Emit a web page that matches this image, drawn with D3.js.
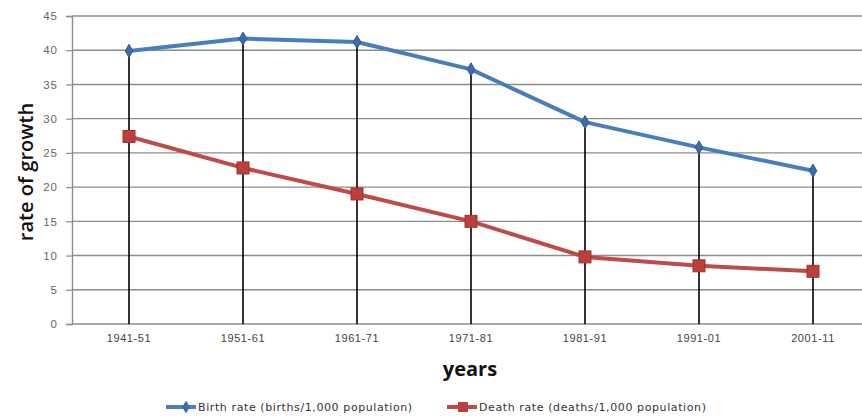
<!DOCTYPE html>
<html>
<head>
<meta charset="utf-8">
<script src="https://cdn.jsdelivr.net/npm/d3@7"></script>
<style>
  html, body { margin: 0; padding: 0; background: #fff; }
  svg { display: block; font-family: "DejaVu Sans", Verdana, sans-serif; }
</style>
</head>
<body>
<svg id="chart" width="862" height="416"></svg>
<script>
// Decade periods on the x axis
const periods = ["1941-51", "1951-61", "1961-71", "1971-81", "1981-91", "1991-01", "2001-11"];
// Births per 1,000 population
const birthRate = [39.9, 41.7, 41.2, 37.2, 29.5, 25.8, 22.4];
// Deaths per 1,000 population
const deathRate = [27.4, 22.8, 19.0, 15.0, 9.8, 8.5, 7.7];
// Y axis ticks
const yTicks = [0, 5, 10, 15, 20, 25, 30, 35, 40, 45];

const seriesNames = ["Birth rate (births/1,000 population)", "Death rate (deaths/1,000 population)"];
const colors = ["#4A7EBB", "#BE4B48"];

const svg = d3.select("#chart");
const plot = { left: 72, right: 870, top: 16, bottom: 324 };

const x = d3.scaleBand().domain(periods).range([plot.left, plot.right]);
const cx = d => x(d) + x.bandwidth() / 2;
const y = d3.scaleLinear().domain([0, 45]).range([plot.bottom, plot.top]);

// Horizontal gridlines
svg.append("g").selectAll("line").data(yTicks.filter(t => t > 0)).join("line")
  .attr("x1", plot.left).attr("x2", 862)
  .attr("y1", d => y(d)).attr("y2", d => y(d))
  .attr("stroke", "#8c8c8c").attr("stroke-width", 1.4);

// Y axis
const yAxis = svg.append("g").attr("transform", `translate(${plot.left},0)`)
  .call(d3.axisLeft(y).tickValues(yTicks).tickSize(6).tickPadding(8));
yAxis.select(".domain").attr("stroke", "#8c8c8c").attr("stroke-width", 1.4);
yAxis.selectAll(".tick line").attr("stroke", "#8c8c8c").attr("stroke-width", 1.2);
yAxis.selectAll("text").attr("fill", "#666").attr("font-size", 11.5)
  .attr("letter-spacing", 1);

// X axis
const xAxis = svg.append("g").attr("transform", `translate(0,${plot.bottom})`)
  .call(d3.axisBottom(x).tickSize(0).tickPadding(10));
xAxis.select(".domain").attr("stroke", "#8c8c8c").attr("stroke-width", 1.4)
  .attr("d", `M${plot.left},0H862`);
xAxis.selectAll("text").attr("fill", "#444").attr("font-size", 11)
  .attr("letter-spacing", 0.6);

// Drop lines from the highest point to the baseline
svg.append("g").selectAll("line").data(periods).join("line")
  .attr("x1", d => cx(d)).attr("x2", d => cx(d))
  .attr("y1", (d, i) => y(Math.max(birthRate[i], deathRate[i])))
  .attr("y2", y(0))
  .attr("stroke", "#000").attr("stroke-width", 1.6);

const line = d3.line().x((d, i) => cx(periods[i])).y(d => y(d));

// Birth rate series
svg.append("path").datum(birthRate)
  .attr("d", line).attr("fill", "none")
  .attr("stroke", colors[0]).attr("stroke-width", 4).attr("stroke-linejoin", "round");
const diamond = d3.symbol().type(d3.symbolDiamond).size(50);
svg.append("g").selectAll("path").data(birthRate).join("path")
  .attr("d", diamond)
  .attr("transform", (d, i) => `translate(${cx(periods[i])},${y(d)})`)
  .attr("fill", "#3D6DA8").attr("stroke", "#2f5a8f").attr("stroke-width", 1);

// Death rate series
svg.append("path").datum(deathRate)
  .attr("d", line).attr("fill", "none")
  .attr("stroke", colors[1]).attr("stroke-width", 4).attr("stroke-linejoin", "round");
svg.append("g").selectAll("rect").data(deathRate).join("rect")
  .attr("x", (d, i) => cx(periods[i]) - 6).attr("y", d => y(d) - 6)
  .attr("width", 12).attr("height", 12)
  .attr("fill", "#B8403D").attr("stroke", "#a3302d").attr("stroke-width", 1);

// Axis titles
svg.append("text")
  .attr("transform", "translate(33,172) rotate(-90)")
  .attr("text-anchor", "middle").attr("font-size", 20).attr("font-weight", 600)
  .attr("font-family", "Open Sans, DejaVu Sans, sans-serif")
  .attr("fill", "#111").text("rate of growth");
svg.append("text")
  .attr("x", 470).attr("y", 376)
  .attr("text-anchor", "middle").attr("font-size", 20).attr("font-weight", "bold")
  .attr("font-family", "Open Sans, DejaVu Sans, sans-serif")
  .attr("fill", "#111").text("years");

// Legend
const legend = svg.append("g");
const legendItems = [
  { x: 166, name: seriesNames[0], color: colors[0], marker: "diamond" },
  { x: 447, name: seriesNames[1], color: colors[1], marker: "square" }
];
legendItems.forEach(item => {
  const g = legend.append("g").attr("transform", `translate(${item.x},407)`);
  g.append("line").attr("x1", 0).attr("x2", 30).attr("y1", 0).attr("y2", 0)
    .attr("stroke", item.color).attr("stroke-width", 4);
  if (item.marker === "diamond") {
    g.append("path").attr("d", diamond).attr("transform", "translate(20,0)")
      .attr("fill", "#3D6DA8");
  } else {
    g.append("rect").attr("x", 11).attr("y", -5).attr("width", 10).attr("height", 10)
      .attr("fill", "#B8403D");
  }
  g.append("text").attr("x", 32).attr("y", 4)
    .attr("font-size", 11).attr("letter-spacing", 0.6)
    .attr("fill", "#333").text(item.name);
});
</script>
</body>
</html>
